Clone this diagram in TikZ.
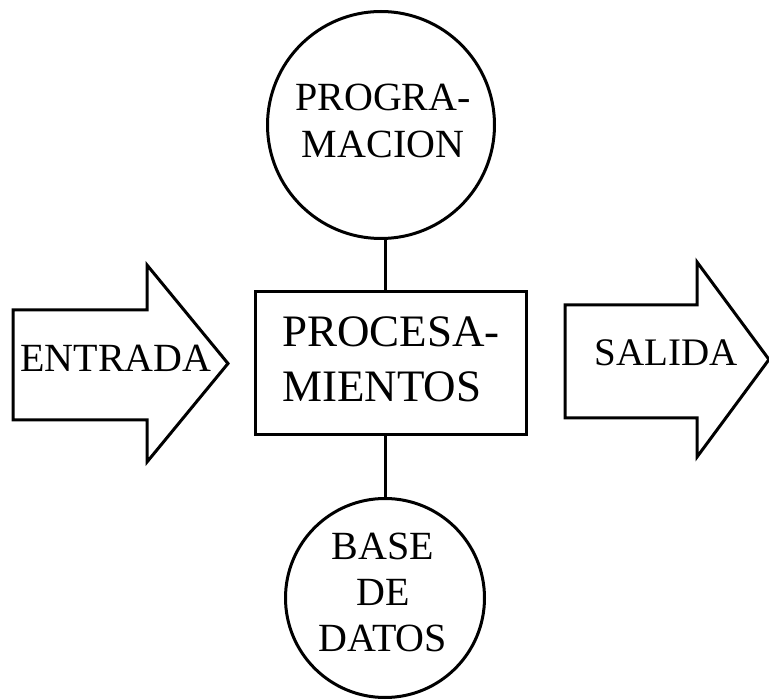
\documentclass[tikz,border=0pt]{standalone}
\usepackage{fontspec}
\setmainfont{Liberation Serif}
\begin{document}
\begin{tikzpicture}[x=1pt,y=-1pt,
  shape line/.style={line width=3pt, line join=miter},
  label40/.style={font=\fontsize{40}{47}\selectfont, align=center, inner sep=0pt},
  label45/.style={font=\fontsize{45}{55}\selectfont, align=left, inner sep=0pt},
  circ/.style={circle, draw, shape line, inner sep=0pt},
  procbox/.style={rectangle, draw, shape line, inner sep=0pt, minimum width=271pt, minimum height=143pt}]
\useasboundingbox (0,0) rectangle (769,700);
\path[fill=white] (0,0) rectangle (769,700);
% nodes
\node[circ, minimum size=227pt] (prog) at (381,125) {};
\node[label40] (progtxt) at (383,121) {PROGRA-\\MACION};
\node[procbox] (proc) at (390.5,363.5) {};
\node[label45] (proctxt) at (391,359) {PROCESA-\\MIENTOS};
\node[circ, minimum size=199pt] (base) at (385,598) {};
\node[label40, font=\fontsize{40}{46}\selectfont] (basetxt) at (383,592) {BASE\\DE\\DATOS};
% connectors
\draw[shape line] (proc.north -| 385,0) -- (385,0 |- prog.south);
\draw[shape line] (proc.south -| 385,0) -- (385,0 |- base.north);
% input arrow
\draw[shape line] (13,310) -- (147,310) -- (147,265) -- (228,363.5) -- (147,462) -- (147,420) -- (13,420) -- cycle;
\node[font=\fontsize{40}{47}\selectfont, inner sep=0pt] (entrada) at (116,358) {ENTRADA};
% output arrow
\draw[shape line] (565,305) -- (697,305) -- (697,262) -- (769,359.5) -- (697,457) -- (697,418) -- (565,418) -- cycle;
\node[font=\fontsize{39}{47}\selectfont, inner sep=0pt] (salida) at (666,353) {SALIDA};
\end{tikzpicture}
\end{document}
